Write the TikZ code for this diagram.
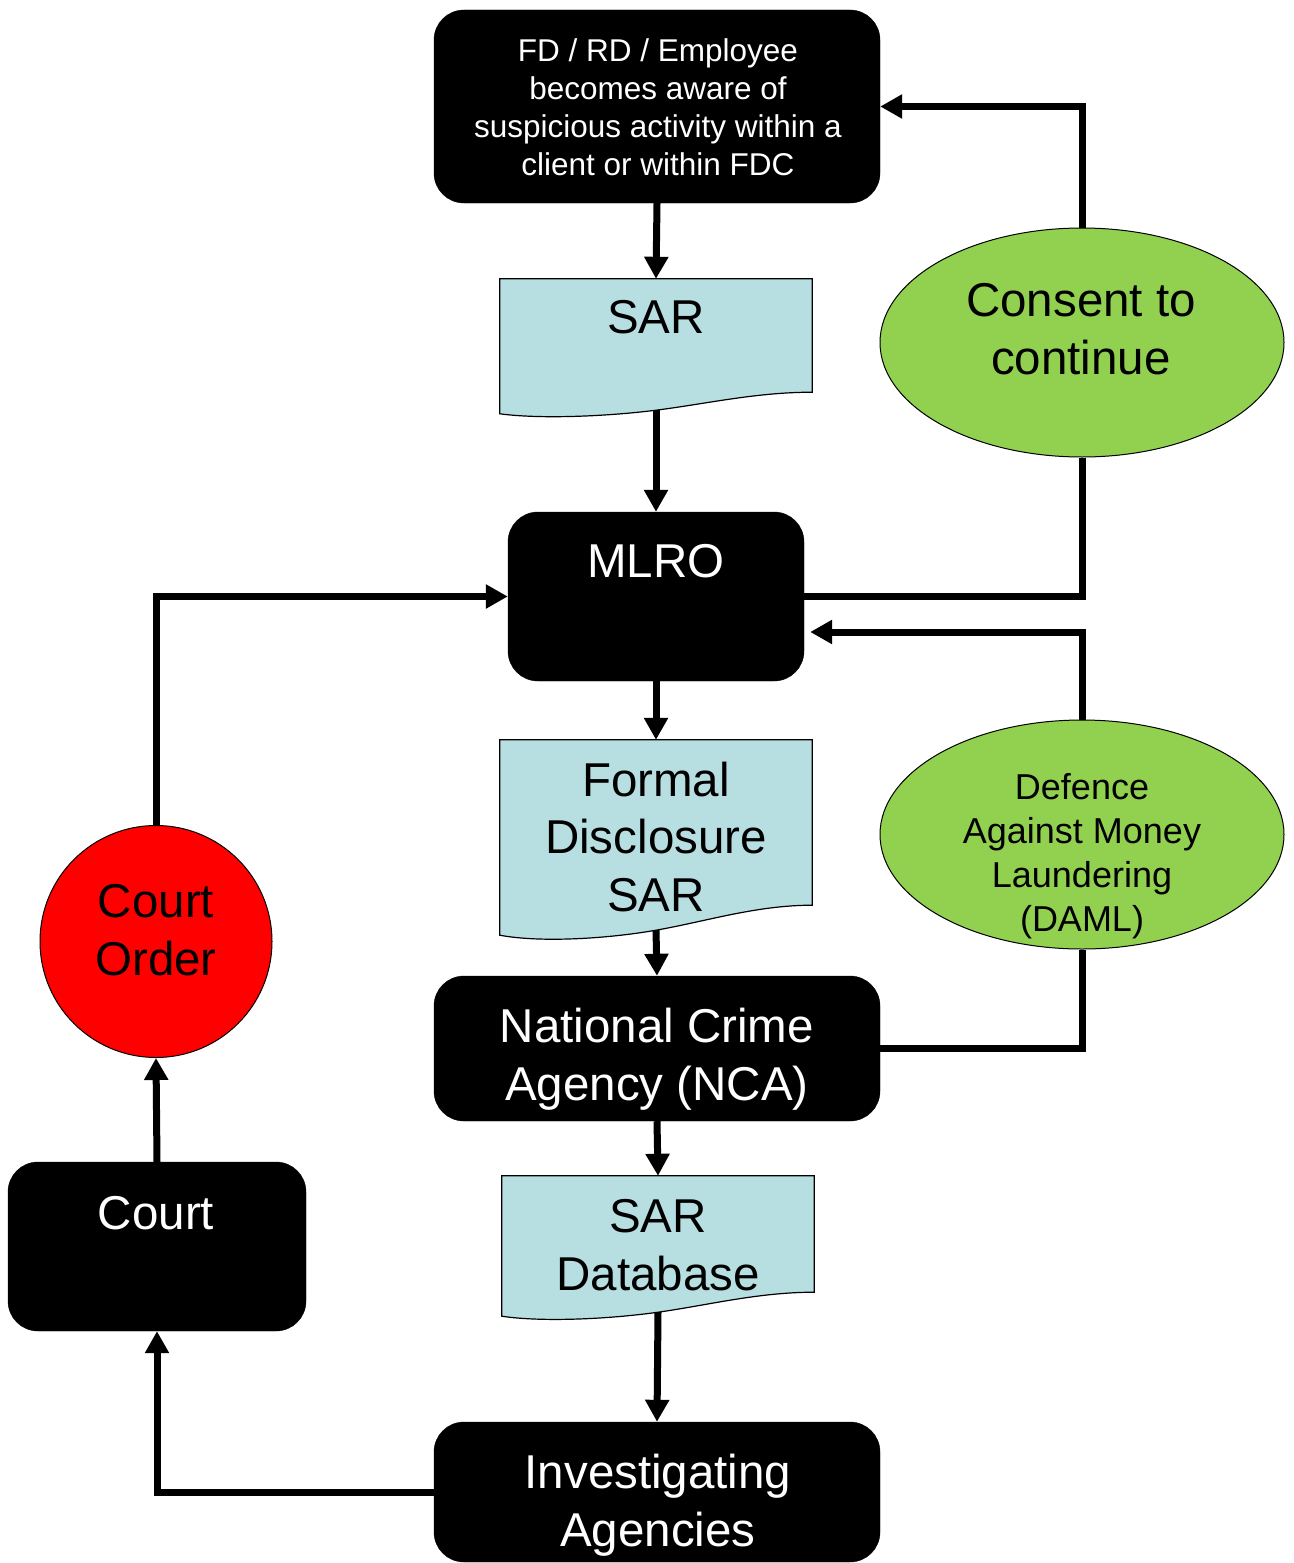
\documentclass[tikz,border=0pt]{standalone}
\usepackage{fontspec}
\setmainfont{Liberation Sans}
\usetikzlibrary{arrows.meta,calc,shapes.geometric}
\definecolor{docblue}{HTML}{B7DEE1}
\definecolor{okgreen}{HTML}{92D050}
\tikzset{
  blackbox/.style={rectangle, rounded corners=30pt, fill=black, draw=black, inner sep=0pt},
  docframe/.style={rectangle, inner sep=0pt},
  greenell/.style={ellipse, fill=okgreen, draw=black, line width=1pt, inner sep=0pt},
  redcirc/.style={circle, fill=red, draw=black, line width=1pt, inner sep=0pt},
  wtxt/.style={text=white, align=center},
  btxt/.style={text=black, align=center},
  bigfont/.style={font=\fontsize{47.5}{57.5}\selectfont},
  smallfont/.style={font=\fontsize{31.5}{38}\selectfont},
  midfont/.style={font=\fontsize{36}{44}\selectfont},
  conn/.style={line width=7pt, line join=miter},
  arr/.style={conn, -{Triangle[length=22pt,width=23pt]}}
}
\newcommand{\docwave}[2]{%
  \fill[docblue] (#1.north west) -- (#1.north east) -- ($(#1.south east)+(0,#2)$)
    .. controls ($(#1.south east)+(-56pt,#2)$) and ($(#1.south)+(50pt,0.35*#2)$) .. (#1.south)
    .. controls ($(#1.south)+(-50pt,-0.35*#2)$) and ($(#1.south west)+(40pt,-0.5*#2)$) .. ($(#1.south west)+(0,-0.2*#2)$) -- cycle;
  \draw[line width=1.2pt] (#1.north west) -- (#1.north east) -- ($(#1.south east)+(0,#2)$)
    .. controls ($(#1.south east)+(-56pt,#2)$) and ($(#1.south)+(50pt,0.35*#2)$) .. (#1.south)
    .. controls ($(#1.south)+(-50pt,-0.35*#2)$) and ($(#1.south west)+(40pt,-0.5*#2)$) .. ($(#1.south west)+(0,-0.2*#2)$) -- cycle;
}
\begin{document}
\begin{tikzpicture}[x=1pt,y=-1pt]
\useasboundingbox (0,0) rectangle (1293,1563);

% shapes
\node[blackbox, minimum width=446pt, minimum height=193pt] (top) at (657,106.5) {};
\node[docframe, minimum width=312pt, minimum height=131pt] (sar) at (656,344.5) {};
\docwave{sar}{18pt}
\node[blackbox, minimum width=296pt, minimum height=169pt] (mlro) at (656,596.5) {};
\node[docframe, minimum width=312pt, minimum height=190pt] (fds) at (656,835) {};
\docwave{fds}{25pt}
\node[blackbox, minimum width=446pt, minimum height=145pt] (nca) at (657,1048.5) {};
\node[docframe, minimum width=312pt, minimum height=136pt] (sdb) at (658,1244) {};
\docwave{sdb}{20pt}
\node[blackbox, minimum width=446pt, minimum height=140pt] (ia) at (657,1492) {};
\node[blackbox, minimum width=298pt, minimum height=169pt] (court) at (157,1246.5) {};
\node[redcirc, minimum size=232pt] (co) at (156,941.5) {};
\node[greenell, minimum width=404pt, minimum height=229pt] (consent) at (1082,342.5) {};
\node[greenell, minimum width=404pt, minimum height=229pt] (daml) at (1082,834.5) {};

% texts
\node[wtxt, smallfont] (ttop) at (658,107) {FD / RD / Employee\\becomes aware of\\suspicious activity within a\\client or within FDC};
\node[btxt, bigfont] (tsar) at (656,317) {SAR};
\node[wtxt, bigfont] (tmlro) at (656,561) {MLRO};
\node[btxt, bigfont] (tfds) at (656,837) {Formal\\Disclosure\\SAR};
\node[wtxt, bigfont] (tnca) at (657,1059) {National Crime\\Agency (NCA)};
\node[btxt, bigfont] (tsdb) at (658,1245) {SAR\\Database};
\node[wtxt, bigfont] (tia) at (658,1505) {Investigating\\Agencies};
\node[wtxt, bigfont] (tcourt) at (156,1213) {Court};
\node[btxt, bigfont] (tco) at (156,930) {Court\\Order};
\node[btxt, bigfont] (tcons) at (1081,329) {Consent to\\continue};
\node[btxt, midfont] (tdaml) at (1082,856) {Defence\\Against Money\\Laundering\\(DAML)};

\coordinate (mlroin) at ($(mlro.east)+(6pt,-35.5pt)$);

% connectors
\draw[arr] (top.south) -- (sar.north);
\draw[arr] (sar.south) -- (mlro.north);
\draw[arr] (mlro.south) -- (fds.north);
\draw[arr] (fds.south) -- (nca.north);
\draw[arr] (nca.south) -- (sdb.north);
\draw[arr] (sdb.south) -- (ia.north);
\draw[arr] (ia.west) -| (court.south);
\draw[arr] (court.north) -- (co.south);
\draw[arr] (co.north) |- (mlro.west);
\draw[conn] (mlro.east) -| (consent.south);
\draw[arr] (consent.north) |- (top.east);
\draw[conn] (nca.east) -| (daml.south);
\draw[arr] (daml.north) |- (mlroin);
\end{tikzpicture}
\end{document}
